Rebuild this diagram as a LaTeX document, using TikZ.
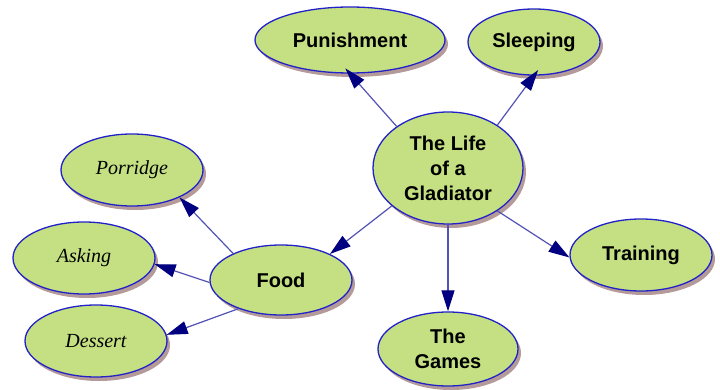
\documentclass[tikz,border=0pt]{standalone}
\usepackage{fontspec}
\setmainfont{Liberation Sans}
\newfontfamily\serifit{Liberation Serif}
\usetikzlibrary{shapes.geometric,shadows,arrows.meta}
\definecolor{leafgreen}{HTML}{C4E082}
\definecolor{rimblue}{HTML}{2222C8}
\definecolor{shadebrown}{HTML}{A88888}
\definecolor{wireblue}{HTML}{5252B4}
\definecolor{tipnavy}{HTML}{000080}

\begin{document}
\begin{tikzpicture}[x=1pt,y=-1pt]
				\tikzstyle{every node}+=[inner sep=0pt]
				\tikzstyle{bubble}=[ellipse, draw=rimblue, line width=1.3pt, fill=leafgreen,
					drop shadow={shadow xshift=3pt, shadow yshift=-4pt, fill=shadebrown, opacity=0.85},
					align=center, font=\fontsize{20}{25}\selectfont\bfseries]
				\tikzstyle{food item}=[bubble, font=\fontsize{20}{24}\selectfont\serifit\itshape]
				\tikzstyle{link}=[draw=wireblue, line width=1.2pt,
					-{Triangle[length=21pt,width=13pt,color=tipnavy]}]
				\useasboundingbox (0,0) rectangle (720,390);
				% topic in the middle
				\node [bubble, minimum width=150, minimum height=112] (hub) at (448,168) {The Life\\of a\\Gladiator};
				\node [bubble, minimum width=190, minimum height=66] (pun) at (350,40) {Punishment};
				\node [bubble, minimum width=132, minimum height=66] (sleep) at (534,42) {Sleeping};
				\node [bubble, minimum width=142, minimum height=72] (train) at (641,255) {Training};
				\node [bubble, minimum width=140, minimum height=74] (games) at (448,349) {The\\Games};
				\node [bubble, minimum width=142, minimum height=70] (food) at (281,280) {Food};
				% what they eat
				\node [food item, minimum width=142, minimum height=72] (porr) at (132,170) {Porridge};
				\node [food item, minimum width=142, minimum height=72] (ask) at (84,258) {Asking};
				\node [food item, minimum width=142, minimum height=72] (dess) at (96,341) {Dessert};
				% links
				\draw [link, shorten >=-7pt] (hub.141) -- (pun.south);
				\draw [link, shorten >=-7pt] (hub.41) -- (sleep.south);
				\draw [link] (hub.319) -- (train.182);
				\draw [link] (hub.270) -- (games.north);
				\draw [link] (hub.214) -- (food.28);
				\draw [link] (food.151) -- (porr.330);
				\draw [link] (food.182) -- (ask.355);
				\draw [link] (food.214) -- (dess.5);
\end{tikzpicture}
\end{document}
